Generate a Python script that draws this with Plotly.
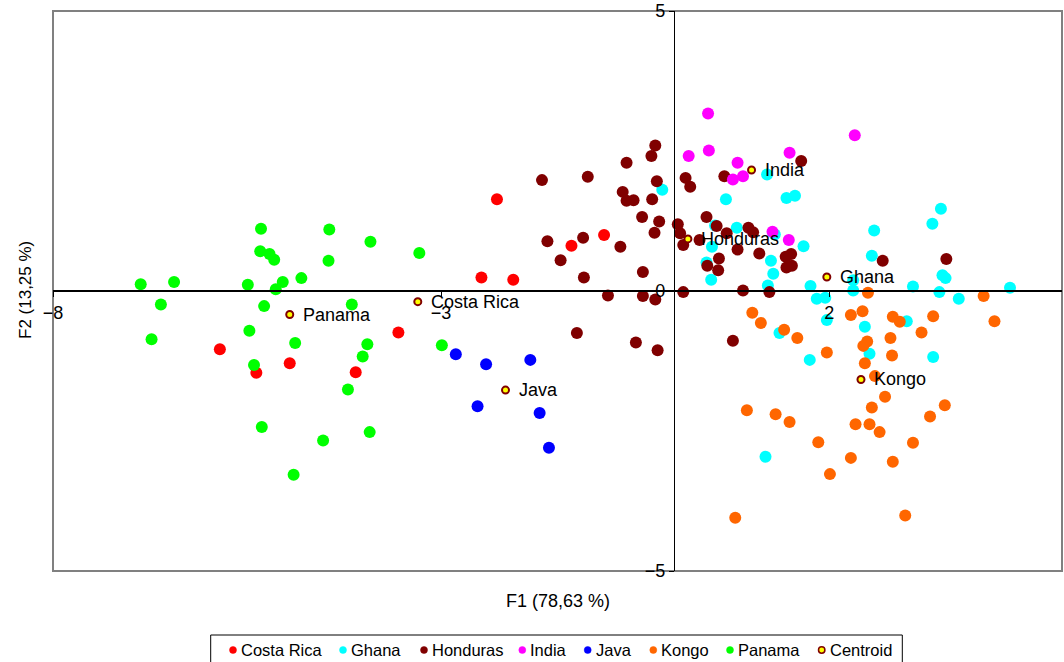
import plotly.graph_objects as go

# ---------------- data (F1, F2 scores) ----------------
costa_rica_x = [-2.28, -0.90, -1.32, -2.48, -2.07, -3.55, -5.85, -5.38, -4.95, -4.10]
costa_rica_y = [1.64, 1.00, 0.81, 0.24, 0.20, -0.74, -1.04, -1.46, -1.29, -1.45]

ghana_x = [-0.15, 1.20, 0.67, 1.45, 1.56, 3.44, 3.33, 2.58, 0.81, 0.53, 1.30, 0.49, 1.67,
           1.25, 0.42, 1.28, 0.48, 2.55, 3.46, 3.50, 1.21, 1.76, 2.31, 2.31, 3.08, 3.42,
           3.67, 4.33, 1.84, 1.95, 1.97, 2.46, 3.00, 1.36, 2.52, 1.75, 3.34, 1.18]
ghana_y = [1.81, 2.08, 1.64, 1.66, 1.70, 1.47, 1.20, 1.08, 1.13, 1.17, 1.01, 0.79, 0.80,
           0.54, 0.51, 0.31, 0.20, 0.63, 0.28, 0.23, 0.10, 0.09, 0.19, 0.01, 0.08, -0.02,
           -0.14, 0.06, -0.14, -0.12, -0.52, -0.64, -0.54, -0.75, -1.12, -1.23, -1.18, -2.96]

honduras_x = [-0.24, -0.29, -0.61, -1.70, -1.11, -0.22, 0.15, 0.21, -0.66, -0.61, -0.52,
              -0.28, -0.41, -0.19, -0.25, 0.05, 0.08, 0.12, 0.33, -1.63, -1.17, -0.69,
              -1.46, -0.40, -1.16, -0.85, -0.40, -0.24, 0.12, -1.25, -0.49, -0.21, 1.64,
              0.65, 0.42, 0.55, 0.68, 0.96, 1.02, 0.82, 1.10, 0.58, 0.43, 0.57, 1.44, 1.51,
              1.45, 1.52, 2.69, 3.51, 0.89, 1.23, 0.76]
honduras_y = [2.60, 2.41, 2.29, 1.98, 2.04, 1.96, 2.02, 1.86, 1.77, 1.61, 1.62, 1.64, 1.32,
              1.24, 1.04, 1.19, 1.03, 0.82, 0.91, 0.89, 0.95, 0.79, 0.55, 0.34, 0.24, -0.08,
              -0.09, -0.15, -0.02, -0.75, -0.92, -1.06, 2.32, 2.05, 1.32, 1.16, 1.03, 1.13,
              1.05, 0.74, 0.67, 0.58, 0.45, 0.37, 0.61, 0.66, 0.42, 0.45, 0.54, 0.57, 0.01,
              -0.02, -0.89]

india_x = [0.44, 2.33, 0.19, 0.45, 1.49, 0.82, 0.76, 0.89, 1.27, 1.48]
india_y = [3.17, 2.78, 2.41, 2.51, 2.47, 2.29, 1.99, 2.05, 1.06, 0.91]

java_x = [-2.81, -2.42, -1.85, -2.53, -1.73, -1.61]
java_y = [-1.13, -1.31, -1.23, -2.06, -2.18, -2.80]

kongo_x = [2.50, 3.99, 1.01, 1.12, 2.28, 2.43, 2.82, 2.91, 3.34, 4.13, 1.42, 1.59, 3.19,
           2.79, 2.49, 2.44, 1.97, 2.81, 2.46, 2.59, 2.72, 0.94, 1.31, 1.49, 2.55, 3.49,
           3.30, 2.34, 2.52, 2.65, 1.86, 3.08, 2.28, 2.82, 2.01, 0.79, 2.98]
kongo_y = [-0.03, -0.09, -0.39, -0.57, -0.43, -0.36, -0.46, -0.55, -0.45, -0.54, -0.69,
           -0.84, -0.74, -0.84, -0.90, -0.98, -1.10, -1.15, -1.29, -1.52, -1.89, -2.13,
           -2.20, -2.34, -2.08, -2.04, -2.24, -2.38, -2.38, -2.52, -2.70, -2.71, -2.98,
           -3.05, -3.27, -4.05, -4.01]

panama_x = [-5.32, -4.44, -3.91, -3.28, -5.33, -5.21, -5.15, -4.45, -6.87, -6.44, -5.49,
            -5.04, -4.80, -5.13, -6.61, -5.28, -4.15, -6.73, -5.47, -4.88, -3.95, -5.41,
            -4.01, -4.20, -5.31, -4.52, -3.92, -4.90, -2.99]
panama_y = [1.11, 1.10, 0.88, 0.68, 0.71, 0.66, 0.56, 0.54, 0.12, 0.16, 0.11, 0.16, 0.23,
            0.03, -0.24, -0.27, -0.24, -0.86, -0.71, -0.93, -0.95, -1.32, -1.17, -1.76,
            -2.43, -2.67, -2.52, -3.28, -0.97]

centroid_names = ["Costa Rica", "Ghana", "Honduras", "India", "Java", "Kongo", "Panama"]
centroid_x = [-3.30, 1.97, 0.18, 1.00, -2.17, 2.41, -4.95]
centroid_y = [-0.19, 0.25, 0.93, 2.16, -1.77, -1.58, -0.42]

x_ticks = [-8, -3, 2]
y_ticks = [-5, 0, 5]
x_title = "F1 (78,63 %)"
y_title = "F2 (13,25 %)"
legend_labels = ["Costa Rica", "Ghana", "Honduras", "India", "Java", "Kongo", "Panama", "Centroid"]

# ---------------- styling ----------------
FONT = "Liberation Sans, Arial, sans-serif"
W, H = 1064, 662
L, R, T, B = 53, 2, 11, 91
COLORS = ["#FF0000", "#00FFFF", "#800000", "#FF00FF", "#0000FF", "#FF6600", "#00FF00"]
CENT_FILL, CENT_LINE = "#FFFF00", "#800000"


def pxx(px):
    return (px - L) / (W - L - R)


def pxy(py):
    return (H - B - py) / (H - T - B)


series = [
    ("Costa Rica", costa_rica_x, costa_rica_y),
    ("Ghana", ghana_x, ghana_y),
    ("Honduras", honduras_x, honduras_y),
    ("India", india_x, india_y),
    ("Java", java_x, java_y),
    ("Kongo", kongo_x, kongo_y),
    ("Panama", panama_x, panama_y),
]

fig = go.Figure()
for (name, xs, ys), col in zip(series, COLORS):
    fig.add_trace(go.Scatter(x=xs, y=ys, mode="markers", name=name, showlegend=False,
                             marker=dict(size=12, color=col, line=dict(width=0))))

fig.add_trace(go.Scatter(x=centroid_x, y=centroid_y, mode="markers", name="Centroid",
                         marker=dict(size=7, color=CENT_FILL, line=dict(color=CENT_LINE, width=2)),
                         showlegend=False, cliponaxis=False))

shapes = [dict(type="rect", xref="paper", yref="paper", x0=0, x1=1, y0=0, y1=1,
               line=dict(color="#808080", width=2), layer="below")]
annotations = [
    dict(text=x_title, xref="paper", yref="paper", x=0.5, y=pxy(601), showarrow=False,
         xanchor="center", yanchor="middle", font=dict(family=FONT, size=18, color="black")),
    dict(text=y_title, xref="paper", yref="paper", x=pxx(25), y=pxy(290), showarrow=False,
         textangle=-90, xanchor="center", yanchor="middle",
         font=dict(family=FONT, size=17, color="black")),
]

# centroid labels, placed at the centroid values
for name, cx, cy in zip(centroid_names, centroid_x, centroid_y):
    annotations.append(dict(text=name, x=cx, y=cy, xref="x", yref="y", showarrow=False,
                            xanchor="left", yanchor="middle", xshift=11, yshift=0,
                            font=dict(family=FONT, size=18, color="black")))

# custom legend box, matching the reference's compact layout
leg_dot_px = [233, 343, 424, 522.3, 587.7, 653.3, 730, 821.7]
leg_y = pxy(650)
shapes.append(dict(type="rect", xref="paper", yref="paper", x0=pxx(210.7), x1=pxx(902.3),
                   y0=pxy(635), y1=pxy(668), line=dict(color="black", width=1),
                   fillcolor="white", layer="above"))
leg_fill = COLORS + [CENT_FILL]
leg_line = COLORS + [CENT_LINE]
for lbl, dx, fc, lc in zip(legend_labels, leg_dot_px, leg_fill, leg_line):
    r = 3.5 if lbl != "Centroid" else 3.2
    shapes.append(dict(type="circle", xref="paper", yref="paper", xsizemode="pixel",
                       ysizemode="pixel", xanchor=pxx(dx), yanchor=leg_y,
                       x0=-r, x1=r, y0=-r, y1=r, fillcolor=fc,
                       line=dict(color=lc, width=1.5 if lbl == "Centroid" else 0.5),
                       layer="above"))
    annotations.append(dict(text=lbl, xref="paper", yref="paper", x=pxx(dx + 6), y=leg_y,
                            showarrow=False, xanchor="left", yanchor="middle",
                            font=dict(family=FONT, size=16.5, color="black")))

fig.update_layout(
    width=W, height=H,
    margin=dict(l=L, r=R, t=T, b=B, pad=0),
    paper_bgcolor="white", plot_bgcolor="white",
    showlegend=False,
    font=dict(family=FONT, size=18, color="black"),
    xaxis=dict(range=[-8, 5], anchor="free", position=0.5, showgrid=False, zeroline=False,
               showline=True, linecolor="black", linewidth=2, tickvals=x_ticks,
               ticks="outside", ticklen=5, tickwidth=1, tickcolor="black",
               tickfont=dict(family=FONT, size=18, color="black")),
    yaxis=dict(range=[-5, 5], anchor="free", position=8 / 13, showgrid=False, zeroline=False,
               showline=True, linecolor="black", linewidth=1, tickvals=y_ticks,
               ticks="outside", ticklen=5, tickwidth=1, tickcolor="black",
               tickfont=dict(family=FONT, size=18, color="black")),
    shapes=shapes,
    annotations=annotations,
)

fig.write_html("out.html", config={"displayModeBar": False},
               post_script="document.body.style.margin='0';document.body.style.padding='0';")
